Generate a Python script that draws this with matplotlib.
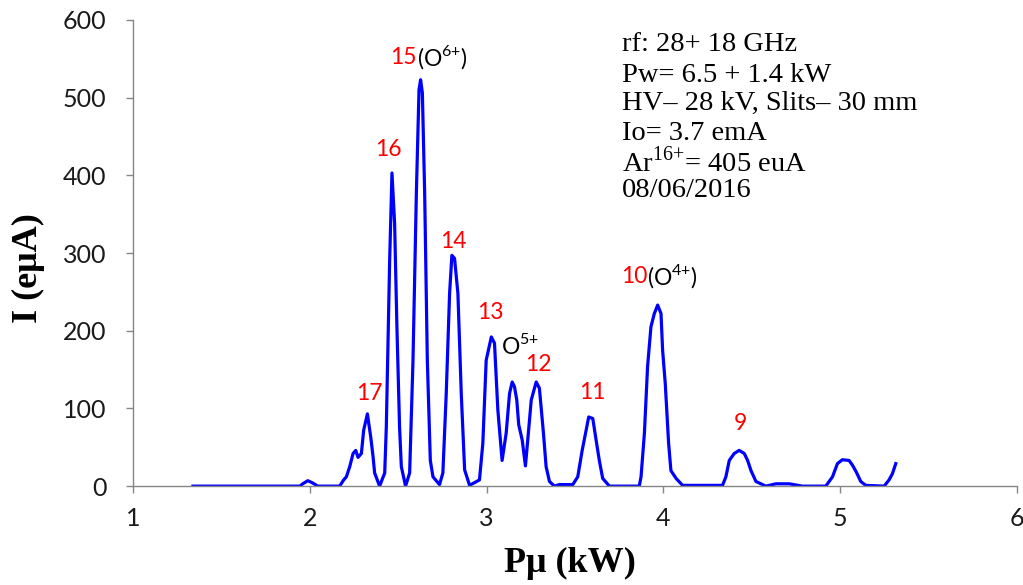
import matplotlib
matplotlib.use("Agg")
import matplotlib.pyplot as plt

plt.rcParams["mathtext.fontset"] = "custom"
plt.rcParams["mathtext.rm"] = "Liberation Serif"
plt.rcParams["mathtext.sf"] = "Lato"

# Microwave power scan: extracted current vs. power
power_kw = [1.339, 1.944, 1.960, 1.989, 2.017, 2.045, 2.169, 2.192, 2.207, 2.226,
            2.245, 2.260, 2.273, 2.292, 2.305, 2.326, 2.345, 2.358, 2.367, 2.395,
            2.424, 2.433, 2.452, 2.465, 2.480, 2.493, 2.508, 2.518, 2.542, 2.565,
            2.584, 2.603, 2.618, 2.627, 2.637, 2.650, 2.665, 2.682, 2.697, 2.734,
            2.753, 2.772, 2.791, 2.804, 2.819, 2.838, 2.857, 2.876, 2.904, 2.960,
            2.979, 2.998, 3.027, 3.045, 3.064, 3.088, 3.111, 3.130, 3.145, 3.158,
            3.171, 3.182, 3.202, 3.220, 3.233, 3.253, 3.281, 3.299, 3.322, 3.337,
            3.356, 3.384, 3.412, 3.488, 3.516, 3.541, 3.578, 3.601, 3.620, 3.638,
            3.657, 3.695, 3.864, 3.874, 3.893, 3.911, 3.930, 3.949, 3.968, 3.987,
            3.996, 4.011, 4.030, 4.043, 4.072, 4.109, 4.335, 4.354, 4.373, 4.401,
            4.429, 4.458, 4.477, 4.496, 4.524, 4.580, 4.637, 4.712, 4.787, 4.919,
            4.957, 4.985, 5.013, 5.051, 5.070, 5.092, 5.117, 5.145, 5.249, 5.277,
            5.296, 5.315]
current_eua = [0, 0, 3, 7, 4, 0, 0, 8, 12, 25,
               42, 46, 37, 42, 72, 93, 63, 38, 17, 0,
               17, 76, 291, 403, 338, 205, 76, 25, 0, 17,
               162, 377, 510, 523, 506, 377, 162, 33, 12, 2,
               17, 119, 248, 297, 293, 248, 119, 21, 1, 8,
               55, 162, 192, 184, 98, 33, 68, 119, 134, 128,
               111, 79, 59, 26, 59, 111, 134, 126, 68, 25,
               6, 0, 2, 2, 12, 46, 89, 87, 59, 33,
               10, 0, 0, 12, 68, 154, 205, 222, 233, 222,
               175, 132, 55, 20, 10, 1, 1, 12, 33, 42,
               46, 42, 33, 20, 6, 0, 3, 3, 0, 0,
               12, 29, 34, 33, 27, 18, 6, 1, 0, 8,
               16, 29]

# Charge-state labels: (text, x, y)
charge_labels = [("17", 2.339, 119), ("16", 2.443, 433), ("15", 2.605, 552),
                 ("14", 2.813, 315), ("13", 3.021, 224), ("12", 3.294, 156),
                 ("11", 3.599, 120), ("10", 3.910, 270), ("9", 4.435, 81)]
oxygen_labels = [("(O$^{\\mathsf{6{+}}}$)", 2.605, 552),
                 ("O$^{\\mathsf{5{+}}}$", 3.083, 181),
                 ("(O$^{\\mathsf{4{+}}}$)", 3.910, 270)]

conditions = ["rf: 28+ 18 GHz",
              "Pw= 6.5 + 1.4 kW",
              "HV\u2013 28 kV, Slits\u2013 30 mm",
              "Io= 3.7 emA",
              "Ar$^{\\mathrm{16{+}}}$= 405 euA",
              "08/06/2016"]

x_ticks = [1, 2, 3, 4, 5, 6]
y_ticks = [0, 100, 200, 300, 400, 500, 600]

fig = plt.figure(figsize=(10.23, 5.85), dpi=100)
ax = fig.add_axes([0.130, 0.169, 0.864, 0.797])

ax.plot(power_kw, current_eua, color="#0000FF", lw=2.3, solid_joinstyle="round")

ax.set_xlim(1, 6)
ax.set_ylim(0, 600)
ax.set_xticks(x_ticks)
ax.set_yticks(y_ticks)

for side in ("top", "right"):
    ax.spines[side].set_visible(False)
for side in ("left", "bottom"):
    ax.spines[side].set_color("#868686")
    ax.spines[side].set_linewidth(1.0)

ax.tick_params(axis="both", direction="out", length=5, width=1.0, color="#868686",
               labelsize=18, labelcolor="#1a1a1a")
ax.tick_params(axis="x", pad=10)
ax.tick_params(axis="y", pad=14)
for lab in ax.get_xticklabels() + ax.get_yticklabels():
    lab.set_fontfamily("Lato")

ax.set_xlabel("P\u03bc (kW)", fontsize=26, fontweight="bold", family="Liberation Serif",
              va="center")
ax.set_ylabel("I (e\u03bcA)", fontsize=26, fontweight="bold", family="Liberation Serif",
              va="center")
ax.xaxis.set_label_coords(0.494, -0.165)
ax.yaxis.set_label_coords(-0.118, 0.468)

for txt, x, y in charge_labels:
    ha = "right" if txt in ("15", "10") else "center"
    ax.text(x, y, txt, color="#FF0000", fontsize=16.5, family="Lato", ha=ha, va="center")
for txt, x, y in oxygen_labels:
    ax.text(x, y, txt, color="black", fontsize=16.5, family="Lato", ha="left", va="center")

cond_y = [568, 529, 492, 454, 417, 381]
for txt, y in zip(conditions, cond_y):
    ax.text(3.768, y, txt, fontsize=20.5, family="Liberation Serif", color="black",
            ha="left", va="center")

fig.savefig("out.png", dpi=100)
